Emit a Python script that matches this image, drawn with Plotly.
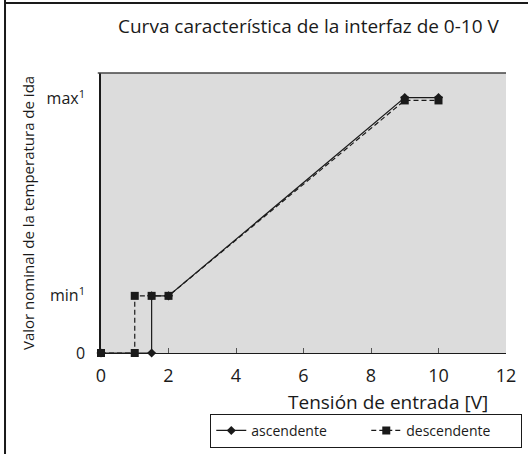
import plotly.graph_objects as go

# Input voltage (V) and nominal flow temperature setpoint (relative units: min=1, max≈4.45)
asc_x = [0, 1.5, 1.5, 2, 9, 10]
asc_y = [0, 0, 1.0, 1.0, 4.47, 4.47]
desc_x = [0, 1, 1, 1.5, 2, 9, 10]
desc_y = [0, 0, 1.0, 1.0, 1.0, 4.42, 4.42]

x_ticks = [0, 2, 4, 6, 8, 10, 12]
y_tickvals = [0, 1.0, 4.45]
y_ticktext = ["0", "min<sup>1</sup>", "max<sup>1</sup>"]

FONT = "Open Sans"
INK = "#1a1a1a"

fig = go.Figure()
fig.add_trace(go.Scatter(
    x=asc_x, y=asc_y, name="ascendente", mode="lines+markers",
    line=dict(color=INK, width=1.2),
    marker=dict(symbol="diamond", size=7, color=INK),
    cliponaxis=False,
))
fig.add_trace(go.Scatter(
    x=desc_x, y=desc_y, name="descendente", mode="lines+markers",
    line=dict(color=INK, width=1.2, dash="5px,3px"),
    marker=dict(symbol="square", size=8, color=INK),
    cliponaxis=False,
))

fig.update_layout(
    width=528, height=454,
    margin=dict(l=101, r=22, t=73, b=101, autoexpand=False),
    paper_bgcolor="white",
    plot_bgcolor="#dcdcdc",
    font=dict(family=FONT, color=INK),
    showlegend=True,
    legend=dict(
        orientation="h", x=0.655, y=-0.278, xanchor="center", yanchor="middle",
        bordercolor=INK, borderwidth=1, bgcolor="white",
        font=dict(size=14, family=FONT, color=INK),
        itemwidth=30, tracegroupgap=0, entrywidth=110,
    ),
    xaxis=dict(
        range=[0, 12], tickvals=x_ticks, ticks="inside", ticklen=5,
        tickcolor="#555", showline=True, linecolor=INK, linewidth=1.2,
        showgrid=False, zeroline=False, ticklabelstandoff=6,
        tickfont=dict(size=18, family=FONT, color=INK),
    ),
    yaxis=dict(
        range=[0, 4.9], tickvals=y_tickvals, ticktext=y_ticktext,
        ticks="", showline=True, linecolor=INK, linewidth=1.5,
        showgrid=False, zeroline=False, ticklabelstandoff=11,
        tickfont=dict(size=16, family=FONT, color=INK),
    ),
    annotations=[
        dict(text="Curva característica de la interfaz de 0-10 V",
             xref="paper", yref="paper", x=0.514, y=1.0, yshift=47,
             xanchor="center", yanchor="middle", showarrow=False,
             font=dict(size=19, family=FONT, color=INK)),
        dict(text="Tensión de entrada [V]",
             xref="paper", yref="paper", x=0.96, y=0, yshift=-49,
             xanchor="right", yanchor="middle", showarrow=False,
             font=dict(size=19, family=FONT, color=INK)),
        dict(text="Valor nominal de la temperatura de ida",
             xref="paper", yref="paper", x=0, xshift=-73, y=0.5,
             textangle=-90, xanchor="center", yanchor="middle", showarrow=False,
             font=dict(size=15, family=FONT, color=INK)),
    ],
    shapes=[
        # top border of the plotting area
        dict(type="line", xref="paper", yref="paper", x0=-0.008, x1=1.0, y0=1, y1=1,
             line=dict(color="#444", width=1.5)),
        # frame around the whole figure (left and top edges)
        dict(type="line", xref="paper", yref="paper", x0=-0.237, x1=-0.237, y0=-0.4, y1=1.27,
             line=dict(color=INK, width=2)),
        dict(type="line", xref="paper", yref="paper", x0=-0.237, x1=1.06, y0=1.25, y1=1.25,
             line=dict(color=INK, width=2)),
    ],
)

fig.write_html("out.html")
